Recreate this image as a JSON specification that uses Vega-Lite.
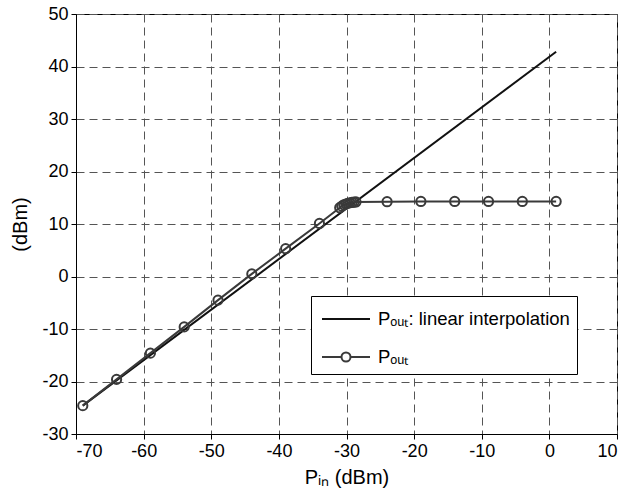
{
  "$schema": "https://vega.github.io/schema/vega-lite/v6.json",
  "width": 541,
  "height": 420,
  "autosize": {"type": "none"},
  "padding": {"left": 76, "top": 14, "right": 24, "bottom": 55},
  "background": "white",
  "config": {
    "view": {"stroke": "#000", "strokeWidth": 1},
    "font": "Arial",
    "axis": {
      "labelFont": "Arial",
      "titleFont": "Arial",
      "labelFontSize": 18,
      "titleFontSize": 20,
      "labelColor": "#000",
      "titleColor": "#000",
      "titleFontWeight": "normal",
      "grid": true,
      "gridDash": [8, 5],
      "gridColor": "#555",
      "gridWidth": 1,
      "gridOpacity": 1,
      "domainColor": "#000",
      "tickColor": "#000",
      "tickSize": 5,
      "labelPadding": 3,
      "labelExpr": "replace(datum.label, '−', '-')"
    },
    "legend": {
      "labelFont": "Arial",
      "labelFontSize": 18.5,
      "labelColor": "#000",
      "labelLimit": 400
    }
  },
  "data": {
    "values": [
      {"series": "Pₒᵤₜ: linear interpolation", "pin": -69, "pout": -24.6},
      {"series": "Pₒᵤₜ: linear interpolation", "pin": 1, "pout": 42.8},
      {"series": "Pₒᵤₜ", "pin": -69, "pout": -24.6},
      {"series": "Pₒᵤₜ", "pin": -64, "pout": -19.6},
      {"series": "Pₒᵤₜ", "pin": -59, "pout": -14.6},
      {"series": "Pₒᵤₜ", "pin": -54, "pout": -9.6},
      {"series": "Pₒᵤₜ", "pin": -49, "pout": -4.5},
      {"series": "Pₒᵤₜ", "pin": -44, "pout": 0.5},
      {"series": "Pₒᵤₜ", "pin": -39, "pout": 5.3},
      {"series": "Pₒᵤₜ", "pin": -34, "pout": 10.1},
      {"series": "Pₒᵤₜ", "pin": -31, "pout": 13.1},
      {"series": "Pₒᵤₜ", "pin": -30.7, "pout": 13.4},
      {"series": "Pₒᵤₜ", "pin": -30.4, "pout": 13.65},
      {"series": "Pₒᵤₜ", "pin": -30.1, "pout": 13.8},
      {"series": "Pₒᵤₜ", "pin": -29.8, "pout": 13.95},
      {"series": "Pₒᵤₜ", "pin": -29.5, "pout": 14.05},
      {"series": "Pₒᵤₜ", "pin": -29.2, "pout": 14.1},
      {"series": "Pₒᵤₜ", "pin": -28.9, "pout": 14.15},
      {"series": "Pₒᵤₜ", "pin": -28.6, "pout": 14.2},
      {"series": "Pₒᵤₜ", "pin": -24, "pout": 14.25},
      {"series": "Pₒᵤₜ", "pin": -19, "pout": 14.3},
      {"series": "Pₒᵤₜ", "pin": -14, "pout": 14.3},
      {"series": "Pₒᵤₜ", "pin": -9, "pout": 14.3},
      {"series": "Pₒᵤₜ", "pin": -4, "pout": 14.3},
      {"series": "Pₒᵤₜ", "pin": 1, "pout": 14.3}
    ]
  },
  "layer": [
    {
      "mark": {"type": "line", "strokeWidth": 2},
      "encoding": {
        "x": {"field": "pin", "type": "quantitative", "scale": {"domain": [-70, 10], "nice": false, "zero": false},
          "axis": {"values": [-70, -60, -50, -40, -30, -20, -10, 0, 10], "title": "Pᵢₙ (dBm)", "titlePadding": 7}},
        "y": {"field": "pout", "type": "quantitative", "scale": {"domain": [-30, 50], "nice": false, "zero": false},
          "axis": {"values": [-30, -20, -10, 0, 10, 20, 30, 40, 50], "title": "(dBm)", "titlePadding": 11}},
        "color": {"field": "series", "type": "nominal",
          "scale": {"domain": ["Pₒᵤₜ: linear interpolation", "Pₒᵤₜ"], "range": ["#111111", "#3a3a3a"]},
          "legend": {
            "title": null,
            "orient": "none",
            "legendX": 235,
            "legendY": 282,
            "strokeColor": "#000",
            "fillColor": "#fff",
            "padding": 7,
            "rowPadding": 12,
            "symbolSize": 900,
            "symbolStrokeWidth": 2,
            "symbolFillColor": "transparent",
            "symbolOffset": 12,
            "labelOffset": 16,
            "encode": {
              "symbols": {
                "update": {
                  "shape": {"signal": "datum.value === 'Pₒᵤₜ' ? 'M-1.6,0H-0.3M0.3,0H1.6M-0.3,0A0.3,0.3,0,1,1,0.3,0A0.3,0.3,0,1,1,-0.3,0' : 'M-1.6,0H1.6'"},
                  "fill": {"value": "transparent"}
                }
              }
            }
          }}
      }
    },
    {
      "transform": [{"filter": "datum.series === 'Pₒᵤₜ'"}],
      "mark": {"type": "point", "filled": false, "size": 85, "strokeWidth": 2, "opacity": 1},
      "encoding": {
        "x": {"field": "pin", "type": "quantitative"},
        "y": {"field": "pout", "type": "quantitative"},
        "color": {"field": "series", "type": "nominal"}
      }
    }
  ]
}
